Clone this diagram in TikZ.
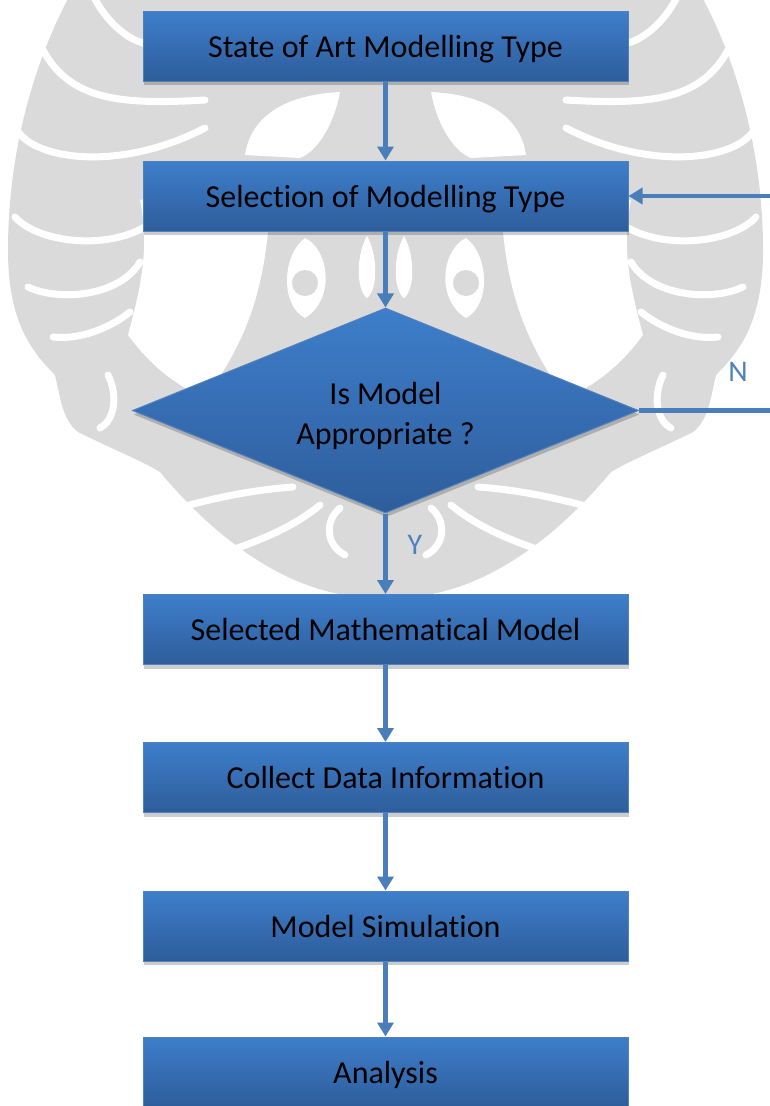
\documentclass[tikz,border=0pt]{standalone}
\usepackage{fontspec}
\setmainfont{Carlito}[Ligatures=NoCommon]
\usetikzlibrary{shapes.geometric,arrows.meta,shadows}
\definecolor{wm}{RGB}{218,218,218}
\definecolor{linecol}{RGB}{74,126,187}
\definecolor{boxtop}{RGB}{62,126,203}
\definecolor{boxbot}{RGB}{46,93,155}
\definecolor{boxedge}{RGB}{79,129,189}
\definecolor{lblcol}{RGB}{79,129,189}
\tikzset{
  shadowed/.style={drop shadow={shadow xshift=1pt, shadow yshift=-4pt, opacity=0.2, fill=black}},
  procbox/.style={rectangle, minimum width=485pt, minimum height=70pt, inner sep=0pt,
    top color=boxtop, bottom color=boxbot, draw=boxedge, line width=1pt,
    font=\fontsize{32}{39}\selectfont, text=black, text depth=0pt, shadowed},
  decision/.style={diamond, aspect=2.47, minimum width=506pt, minimum height=205pt, inner sep=0pt,
    top color=boxtop, bottom color=boxbot, draw=boxedge, line width=1pt, align=center,
    font=\fontsize{32}{40}\selectfont, text=black, shadowed},
  flow/.style={draw=linecol, line width=4.5pt, -{Triangle[width=16pt,length=14pt]}},
  lbl/.style={font=\fontsize{30}{36}\selectfont, text=lblcol},
  wmline/.style={draw=white, line width=7pt, line cap=round},
}
\newcommand\wmhalf{%
  \fill[wm] (386,-5) -- (70,-5) .. controls (35,60) and (8,150) .. (8,250)
    .. controls (8,320) and (30,350) .. (55,375) .. controls (60,395) and (62,420) .. (78,432)
    .. controls (110,448) and (140,460) .. (160,472) .. controls (200,520) and (260,575) .. (330,592)
    .. controls (355,598) and (375,600) .. (386,600) -- cycle;
  \fill[white] (140,200) .. controls (200,188) and (250,200) .. (268,232)
    .. controls (262,290) and (248,340) .. (205,398) .. controls (175,385) and (150,365) .. (128,335)
    .. controls (140,290) and (150,250) .. (140,200) -- cycle;
  \fill[white] (245,155) .. controls (250,120) and (280,95) .. (340,92)
    .. controls (335,120) and (320,150) .. (300,158) -- cycle;
  \fill[white] (305,238) .. controls (330,250) and (335,300) .. (305,318)
    .. controls (280,305) and (282,255) .. (305,238) -- cycle;
  \fill[wm] (305,283) circle (13pt);
  \fill[white] (367,236) .. controls (378,255) and (378,290) .. (367,298)
    .. controls (356,290) and (356,255) .. (367,236) -- cycle;
  \draw[wmline] (93,-5) .. controls (105,20) and (125,38) .. (143,43);
  \draw[wmline] (43,50) .. controls (70,100) and (120,105) .. (205,100);
  \draw[wmline] (17,130) .. controls (35,160) and (120,172) .. (205,128);
  \draw[wmline] (15,217) .. controls (40,245) and (120,252) .. (157,218);
  \draw[wmline] (28,287) .. controls (60,302) and (120,296) .. (140,262);
  \draw[wmline] (53,337) .. controls (80,340) and (110,328) .. (130,312);
  \draw[wmline] (108,375) .. controls (118,395) and (115,420) .. (100,428);
  \draw[wmline] (150,517) .. controls (200,500) and (250,490) .. (293,487);
  \draw[wmline] (200,560) .. controls (250,545) and (290,530) .. (320,505);
  \draw[wmline] (340,508) .. controls (325,520) and (325,545) .. (345,555);
}
\begin{document}
\begin{tikzpicture}[x=1pt,y=-1pt]
\useasboundingbox (0,0) rectangle (770,1106);
% watermark
\wmhalf
\begin{scope}[shift={(771,0)},xscale=-1]
\wmhalf
\end{scope}
% nodes
\node[procbox] (b1) at (385.5,46) {State of Art Modelling Type};
\node[procbox] (b2) at (385.5,196) {Selection of Modelling Type};
\node[decision] (dia) at (385.5,410.5) {\raisebox{-5pt}[\height][\depth]{\parbox{200pt}{\centering Is Model\\Appropriate ?}}};
\node[procbox] (b3) at (385.5,629.5) {Selected Mathematical Model};
\node[procbox] (b4) at (385.5,777.5) {Collect Data Information};
\node[procbox] (b5) at (385.5,926) {Model Simulation};
\node[procbox] (b6) at (385.5,1072) {Analysis};
\node[lbl] (ylbl) at (415,545) {Y};
\node[lbl] (nlbl) at (738,372) {N};
\coordinate (fbA) at (773,410.5);
\coordinate (fbB) at (773,196);
% connectors
\draw[flow] (b1) -- (b2);
\draw[flow] (b2) -- (dia);
\draw[flow] (dia) -- (b3);
\draw[flow] (b3) -- (b4);
\draw[flow] (b4) -- (b5);
\draw[flow] (b5) -- (b6);
\draw[flow] (dia.east) -- (fbA) -- (fbB) -- (b2.east);
\end{tikzpicture}
\end{document}
